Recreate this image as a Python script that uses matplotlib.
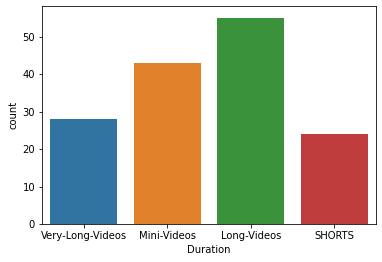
import matplotlib
matplotlib.use("Agg")
import matplotlib.pyplot as plt

# datos
categorias = ["Very-Long-Videos", "Mini-Videos", "Long-Videos", "SHORTS"]
conteos = [28, 43, 55, 24]
colores = ["#3274a1", "#e1812c", "#3a923a", "#c03d3e"]

fig = plt.figure(figsize=(382 / 72, 262 / 72), dpi=72)
ax = fig.add_axes([0.11, 0.145, 0.874, 0.832])

posiciones = list(range(len(categorias)))
ax.bar(posiciones, conteos, width=0.8, color=colores)
ax.set_xticks(posiciones)
ax.set_xticklabels(categorias)
ax.set_xlim(-0.5, len(categorias) - 0.5)
ax.set_ylim(0, max(conteos) * 1.06)

ax.set_xlabel("Duration")
ax.set_ylabel("count")

fig.savefig("out.png", dpi=72)
